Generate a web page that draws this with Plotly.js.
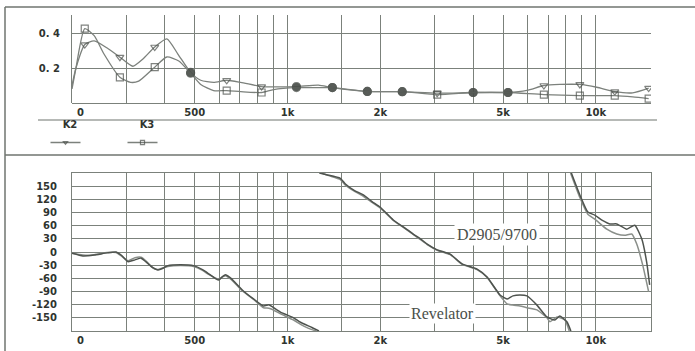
<!DOCTYPE html>
<html>
<head>
<meta charset="utf-8">
<script src="https://cdn.plot.ly/plotly-3.0.1.min.js"></script>
<style>html,body{margin:0;padding:0;background:#fff;}#chart{width:695px;height:351px;}</style>
</head>
<body>
<div id="chart"></div>
<script>
// ---- axis ticks ----
const GRID_FREQ = [200,300,400,500,600,700,800,900,1000,1500,2000,3000,4000,5000,6000,7000,8000,9000,10000,15000];
const LABEL_FREQ = [213, 500, 1000, 2000, 5000, 10000];
const LABEL_TEXT = ['0', '500', '1k', '2k', '5k', '10k'];
const DIST_TICKS = [0.2, 0.4];
const DIST_TEXT = ['0. 2', '0. 4'];
const PHASE_TICKS = [-180,-150,-120,-90,-60,-30,0,30,60,90,120,150,180];
const PHASE_TEXT = ['','-150','-120','-90','-60','-30','0','30','60','90','120','150',''];

// ---- top panel: distortion K2 / K3 ----
const MARKER_FREQ = [220,286,371,485,635,824,1069,1398,1815,2356,3058,4000,5190,6785,8876,11520,14840];
const K2_FREQ = [200,206,220,236,262,286,315,339,371,406,441,485,523,576,635,705,824,901,1069,1260,1398,1815,2356,3058,4000,5190,5980,6785,7646,8876,10070,11520,13170,14840];
const K2_VAL  = [0.10,0.20,0.334,0.355,0.31,0.262,0.21,0.25,0.32,0.367,0.28,0.175,0.13,0.118,0.13,0.118,0.094,0.092,0.094,0.102,0.088,0.066,0.065,0.056,0.06,0.06,0.072,0.10,0.106,0.106,0.09,0.065,0.058,0.085];
const K3_FREQ = [200,206,220,236,254,286,310,329,371,406,444,485,523,576,635,705,824,901,1069,1260,1398,1815,2356,3058,4000,5190,6785,8876,11520,13170,14840];
const K3_VAL  = [0.08,0.20,0.425,0.385,0.28,0.147,0.118,0.125,0.205,0.263,0.24,0.17,0.106,0.071,0.071,0.065,0.06,0.077,0.088,0.088,0.088,0.066,0.065,0.048,0.06,0.06,0.048,0.042,0.042,0.035,0.025];

// ---- bottom panel: phase (degrees, wrapped; null = wrap break) ----
const PH_A_FREQ = [200,217,236,260,278,290,304,320,335,347,365,380,395,409,450,496,530,551,598,615,630,650,669,715,776,836,870,894,949,1046,1102,1200,1265,1266,1268,1340,1484,1541,1650,1762,1880,2000,2203,2400,2557,2700,2839,3058,3369,3685,4120,4440,4891,5152,5387,5676,5980,6443,6941,7368,7646,8055,8300,8310,8330,8876,9421,9926,10500,11100,11695,12600,13375,14090,14620,14950];
const PH_A_DEG  = [-3,-9,-7,-2,0,-8,-22,-18,-14,-22,-35,-41,-37,-31,-29,-31,-40,-48,-64,-56,-52,-58,-66,-87,-107,-123,-120,-125,-137,-150,-160,-172,-180,null,180,176,168,155,140,130,115,102,73,55,41,30,18,5,-5,-27,-39,-57,-98,-107,-100,-98,-100,-121,-148,-155,-146,-159,-180,null,180,130,91,84,72,64,64,52,61,30,-23,-75];
const PH_B_FREQ = [200,217,236,260,278,290,304,320,335,347,365,380,395,409,450,496,530,551,598,615,630,650,669,715,776,836,870,894,949,1046,1102,1170,1240,1241,1290,1360,1484,1541,1650,1762,1880,2000,2203,2400,2557,2700,2839,3058,3369,3685,4120,4440,4891,5152,5387,5676,5980,6443,6941,7099,7479,7937,8200,8220,8280,8876,9421,9926,10855,11695,12415,13080,13575,14195,14840];
const PH_B_DEG  = [-3,-7,-6,-1,-1,-10,-20,-13,-12,-20,-36,-40,-36,-33,-31,-33,-42,-50,-62,-57,-54,-60,-68,-89,-108,-127,-128,-131,-141,-155,-165,-174,-180,null,180,174,165,152,138,127,113,100,72,54,40,28,17,4,-6,-28,-40,-58,-100,-118,-121,-123,-127,-132,-150,-159,-148,-155,-180,null,180,124,86,75,52,41,38,41,18,-30,-91];

const W = 695, H = 351;
const px = v => v / W, py = v => (H - v) / H;
const GRID = '#7b817b', TXT = '#2f342f', FRAME = '#6f756f', MK = '#484d48';
const tickFont = {family: 'DejaVu Sans', size: 10, color: TXT, weight: 'bold'};
const xr = [Math.log10(200), Math.log10(15100)];
const xDom = [px(72), px(651)];

// markers: shown only at measured points; filled where K2 and K3 coincide
function markerStyle(freq, val, other, otherFreq, openSym) {
  const sizes = [], syms = [];
  freq.forEach((f, i) => {
    const isM = MARKER_FREQ.includes(f);
    const j = otherFreq.indexOf(f);
    const same = isM && j >= 0 && Math.abs(other[j] - val[i]) < 0.0065;
    sizes.push(isM ? (same ? 8 : 7) : 0);
    syms.push(same ? 'circle' : openSym);
  });
  return {size: sizes, symbol: syms, color: MK, line: {color: MK, width: 1.2}};
}

const traces = [
  {x: K2_FREQ, y: K2_VAL, name: ' ', xaxis: 'x', yaxis: 'y', mode: 'lines+markers', legend: 'legend',
   line: {color: '#7c817c', width: 1.3, shape: 'spline', smoothing: 0.6},
   marker: markerStyle(K2_FREQ, K2_VAL, K3_VAL, K3_FREQ, 'triangle-down-open'), hoverinfo: 'x+y'},
  {x: K3_FREQ, y: K3_VAL, name: ' ', xaxis: 'x', yaxis: 'y', mode: 'lines+markers', legend: 'legend2',
   line: {color: '#7c817c', width: 1.3, shape: 'spline', smoothing: 0.6},
   marker: markerStyle(K3_FREQ, K3_VAL, K2_VAL, K2_FREQ, 'square-open'), hoverinfo: 'x+y'},
  {x: [], y: [], xaxis: 'x2', yaxis: 'y', showlegend: false, hoverinfo: 'skip'},
  {x: PH_B_FREQ, y: PH_B_DEG, name: 'Revelator', xaxis: 'x3', yaxis: 'y2', mode: 'lines', showlegend: false,
   line: {color: '#8a8f8a', width: 1.5, shape: 'spline', smoothing: 0.5}},
  {x: PH_A_FREQ, y: PH_A_DEG, name: 'D2905/9700', xaxis: 'x3', yaxis: 'y2', mode: 'lines', showlegend: false,
   line: {color: '#4e534e', width: 1.5, shape: 'spline', smoothing: 0.5}},
  {x: [], y: [], xaxis: 'x4', yaxis: 'y2', showlegend: false, hoverinfo: 'skip'}
];

const gridAxis = (anchor, extra) => Object.assign({
  type: 'log', range: xr, domain: xDom, anchor: anchor, tickvals: GRID_FREQ,
  showticklabels: false, showgrid: true, gridcolor: GRID, gridwidth: 1, zeroline: false, ticks: ''
}, extra);
const labelAxis = (over, anchor) => ({
  type: 'log', range: xr, domain: xDom, anchor: anchor, overlaying: over, tickvals: LABEL_FREQ, ticktext: LABEL_TEXT,
  showgrid: false, zeroline: false, ticks: '', tickfont: tickFont, showline: false, ticklabelstandoff: 2
});

const layout = {
  width: W, height: H, margin: {l: 0, r: 0, t: 0, b: 0},
  paper_bgcolor: '#ffffff', plot_bgcolor: '#ffffff',
  xaxis: gridAxis('y'),
  xaxis2: labelAxis('x', 'y'),
  yaxis: {domain: [py(103), py(15)], range: [0, 0.503], anchor: 'x', tickvals: DIST_TICKS, ticktext: DIST_TEXT,
          showgrid: true, gridcolor: GRID, gridwidth: 1, zeroline: true, zerolinecolor: GRID, zerolinewidth: 1,
          showline: true, linecolor: GRID, linewidth: 1, ticks: '', tickfont: tickFont, ticklabelstandoff: 9},
  xaxis3: gridAxis('y2', {showline: true, mirror: true, linecolor: GRID, linewidth: 1}),
  xaxis4: labelAxis('x3', 'y2'),
  yaxis2: {domain: [py(331), py(173)], range: [-180, 180], anchor: 'x3', tickvals: PHASE_TICKS, ticktext: PHASE_TEXT,
           showgrid: true, gridcolor: GRID, gridwidth: 1, zeroline: false,
           showline: true, mirror: true, linecolor: GRID, linewidth: 1, ticks: '', tickfont: tickFont, ticklabelstandoff: 12},
  showlegend: true,
  legend: {x: px(70), xanchor: 'center', y: py(115), yanchor: 'top', orientation: 'h', bgcolor: 'rgba(0,0,0,0)',
           title: {text: 'K2', side: 'top center', font: tickFont}, font: tickFont, itemwidth: 30, tracegroupgap: 0},
  legend2: {x: px(147), xanchor: 'center', y: py(115), yanchor: 'top', orientation: 'h', bgcolor: 'rgba(0,0,0,0)',
           title: {text: 'K3', side: 'top center', font: tickFont}, font: tickFont, itemwidth: 30, tracegroupgap: 0},
  shapes: [
    {type: 'line', xref: 'paper', yref: 'paper', x0: px(5), x1: 1, y0: py(7), y1: py(7), line: {color: FRAME, width: 1.5}},
    {type: 'line', xref: 'paper', yref: 'paper', x0: px(5), x1: px(5), y0: 0, y1: py(7), line: {color: FRAME, width: 1.5}},
    {type: 'line', xref: 'paper', yref: 'paper', x0: px(38), x1: px(657), y0: py(120), y1: py(120), line: {color: FRAME, width: 1.2}},
    {type: 'line', xref: 'paper', yref: 'paper', x0: px(5), x1: 1, y0: py(155), y1: py(155), line: {color: FRAME, width: 1.5}}
  ],
  annotations: [
    {text: 'D2905/9700', xref: 'paper', yref: 'paper', x: px(540), y: py(246), showarrow: false,
     font: {family: 'Liberation Serif', size: 16, color: '#4a4f4a'}, bgcolor: '#ffffff', borderpad: 2},
    {text: 'Revelator', xref: 'paper', yref: 'paper', x: px(476), y: py(324), showarrow: false,
     font: {family: 'Liberation Serif', size: 16, color: '#4a4f4a'}, bgcolor: '#ffffff', borderpad: 1}
  ]
};

Plotly.newPlot('chart', traces, layout, {displayModeBar: false, staticPlot: true});
</script>
</body>
</html>
